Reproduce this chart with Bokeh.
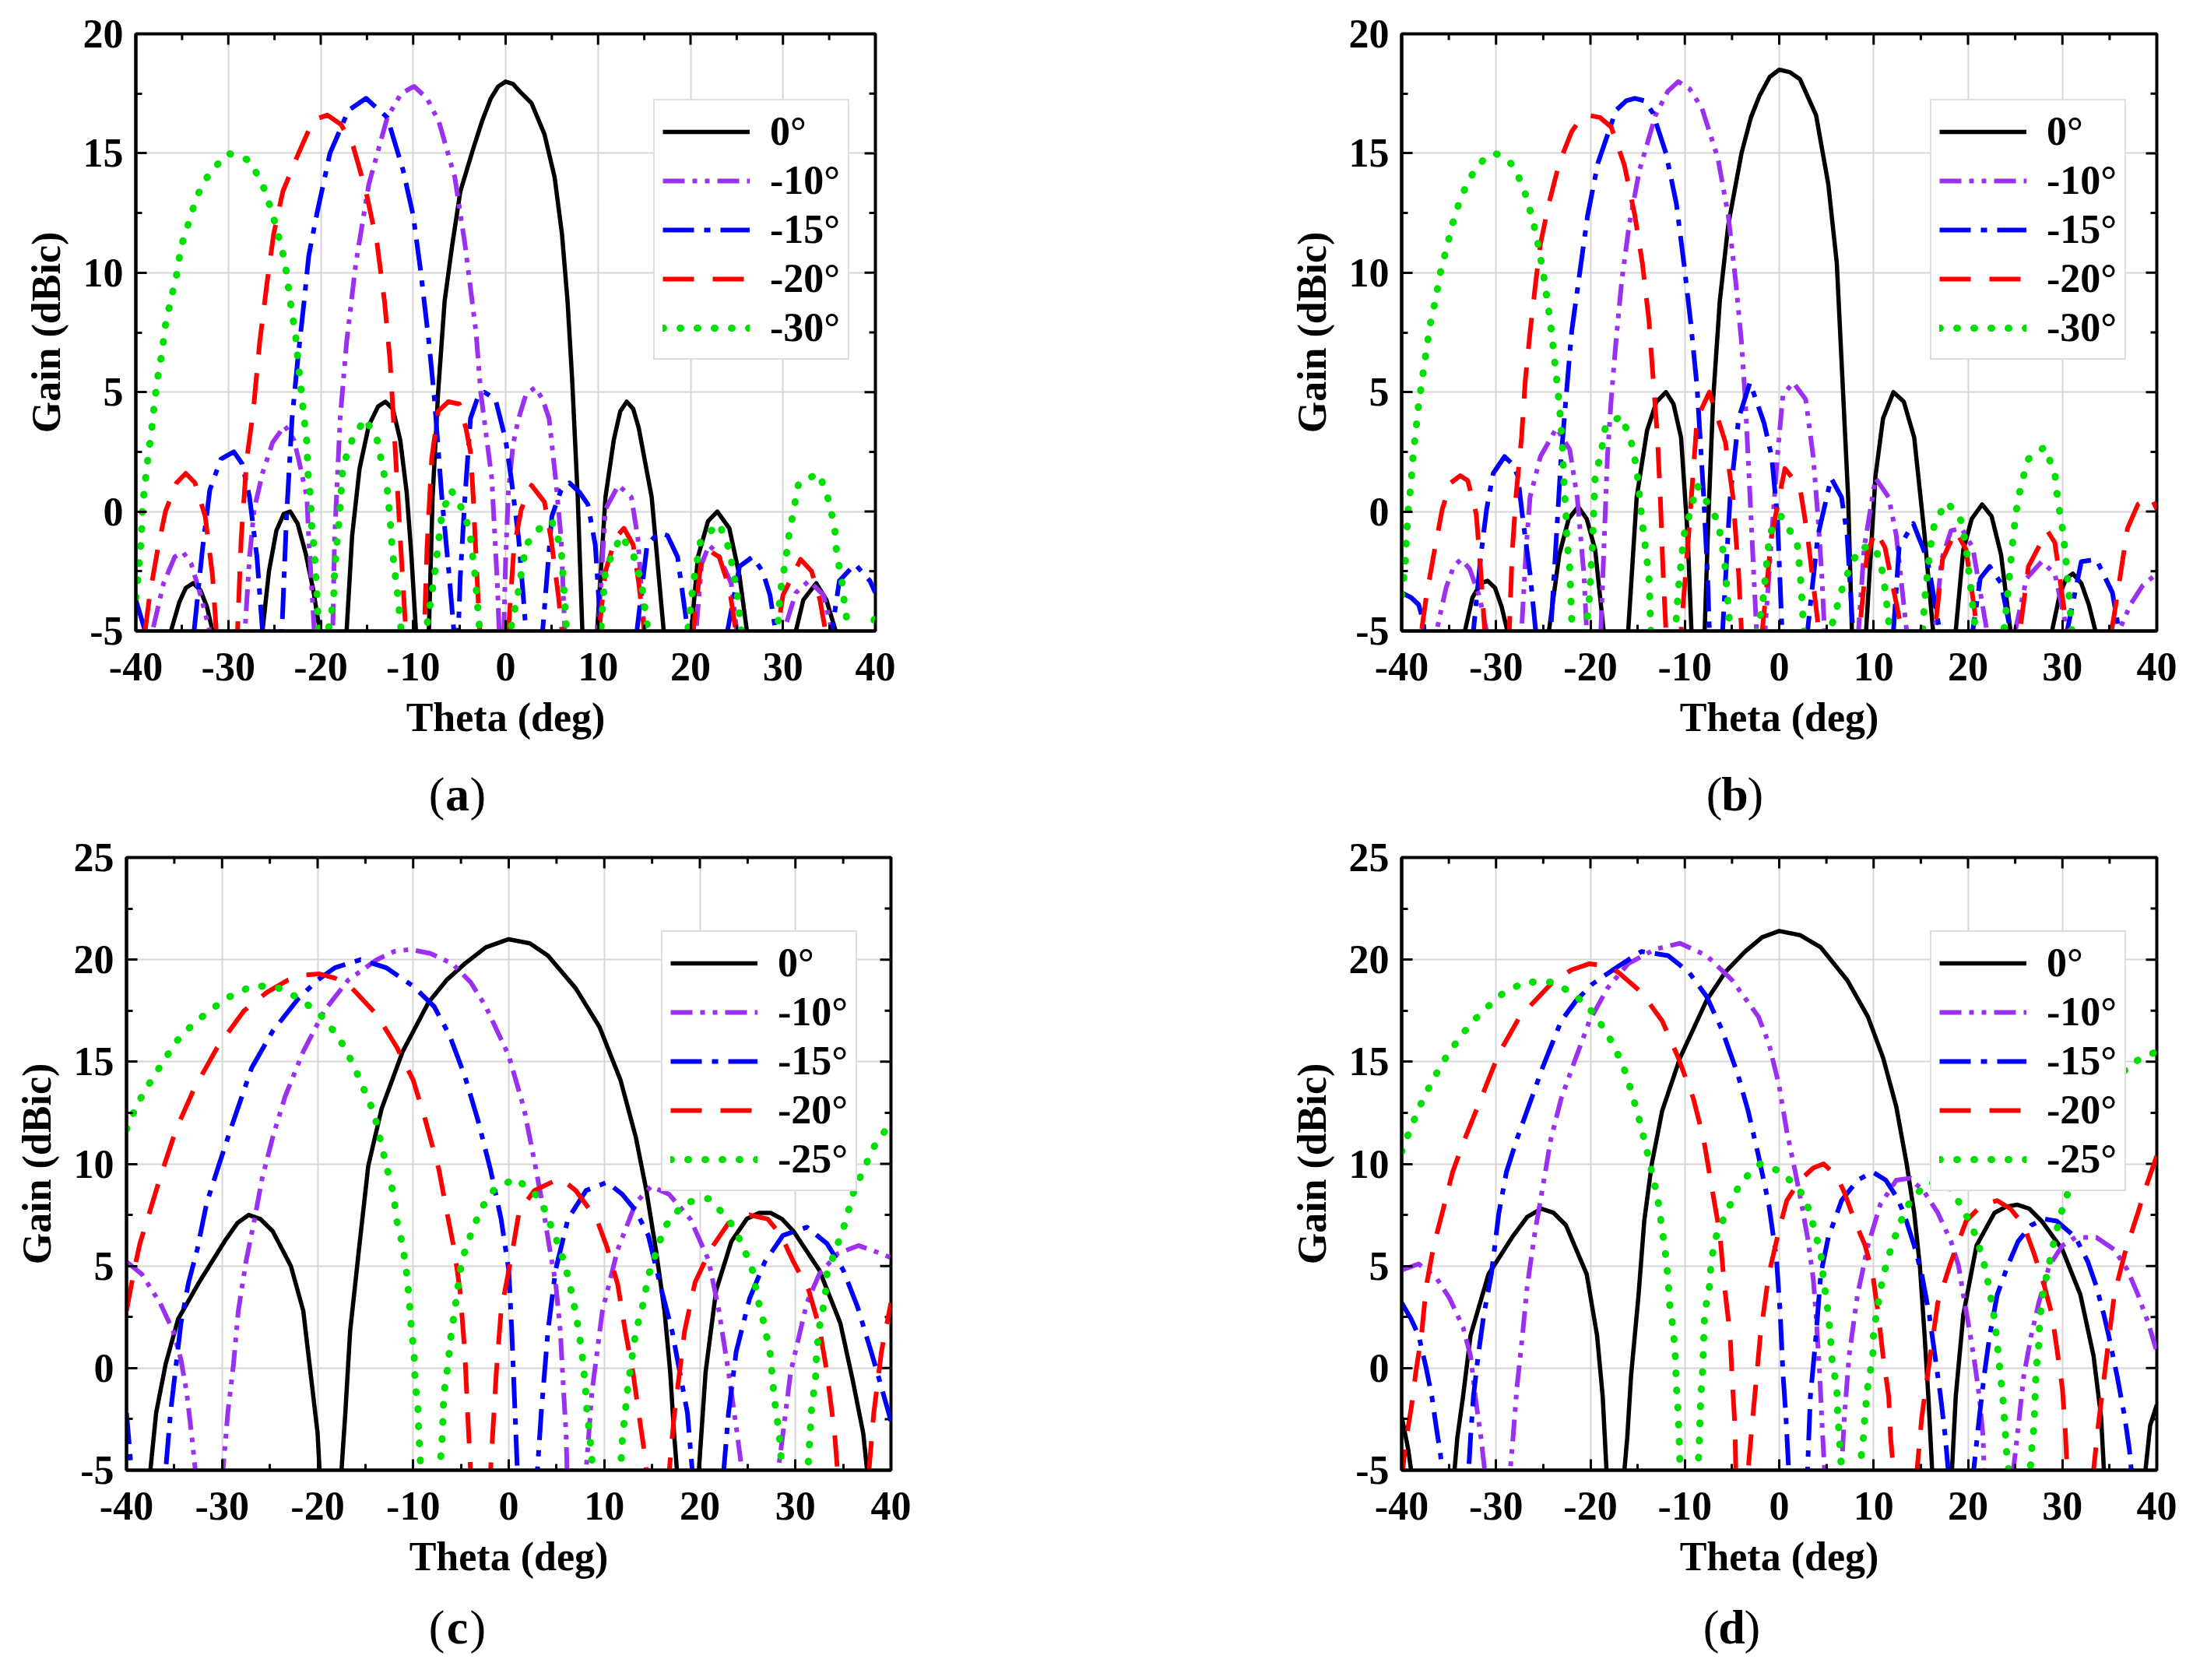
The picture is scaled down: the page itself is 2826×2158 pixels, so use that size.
from bokeh.plotting import figure
from bokeh.models import (Legend, LegendItem, Range1d, FixedTicker)
from bokeh.core.properties import value
from bokeh.layouts import row, column
from bokeh.embed import file_html
from bokeh.resources import INLINE

FONT = "Liberation Serif"

# ---------------- tick values / labels ----------------
x_ticks = [-40, -30, -20, -10, 0, 10, 20, 30, 40]
x_minor = [-35, -25, -15, -5, 5, 15, 25, 35]
y_ticks_ab = [-5, 0, 5, 10, 15, 20]
y_minor_ab = [-2.5, 2.5, 7.5, 12.5, 17.5]
y_ticks_cd = [-5, 0, 5, 10, 15, 20, 25]
y_minor_cd = [-2.5, 2.5, 7.5, 12.5, 17.5, 22.5]

labels_ab = ["0°", "-10°", "-15°", "-20°", "-30°"]
labels_cd = ["0°", "-10°", "-15°", "-20°", "-25°"]
captions = ["a", "b", "c", "d"]

# ---------------- panel (a) ----------------
a0_theta = [-40, -36.2, -35.3, -34.6, -33.8, -33.0, -32.3, -31.7, -29, -26.3, -25.6, -24.8, -24, -23.3, -22.5, -21.6, -20.8, -20.1, -18.6, -17.2, -16.6, -15.8, -14.8, -13.8, -13.0, -12.2, -11.4, -10.7, -10.2, -9.7, -9.0, -8.3, -7.9, -7.3, -6.6, -5.8, -4.9, -3.5, -2.5, -1.6, -0.8, 0, 0.8, 1.5, 2.8, 4.2, 5.3, 6.1, 6.7, 7.2, 7.8, 8.3, 9.1, 9.9, 10.8, 11.7, 12.4, 13.1, 13.8, 14.4, 15.8, 17.1, 18.6, 20.1, 20.8, 21.9, 22.9, 24.2, 25.3, 26.1, 28.7, 31.4, 32.2, 33.6, 34.7, 35.7, 38, 40]
a0_gain = [-9, -5, -3.8, -3.2, -3.0, -3.3, -4.0, -5, -9, -5, -2.5, -0.8, -0.1, 0.0, -0.5, -1.8, -3.3, -5, -9, -5, -1, 1.8, 3.6, 4.4, 4.6, 4.3, 3.0, 0.8, -1.8, -5, -9, -5, 0.6, 5.0, 8.8, 11.1, 13.4, 15.2, 16.4, 17.3, 17.8, 18.0, 17.9, 17.6, 17.1, 15.8, 14.0, 11.6, 8.8, 5.5, 0.6, -5, -9, -5, 0.6, 3.0, 4.2, 4.6, 4.3, 3.5, 0.6, -5, -9, -5, -1.9, -0.4, 0.0, -0.7, -2.7, -5, -9, -5, -3.7, -3.0, -3.7, -5, -9, -7]

a10_theta = [-40, -38.2, -37, -35.8, -34.9, -34, -33, -32, -30, -28.2, -27.7, -27.2, -26.3, -25.2, -23.9, -22.9, -22.4, -21.5, -21.3, -20.7, -19.7, -18.7, -18.5, -17.9, -17.2, -16.2, -14.8, -12.8, -11.3, -9.9, -8.5, -7.2, -5.5, -4.4, -3.2, -2.7, -1.5, -0.9, -0.4, 0.0, 0.3, 0.8, 1.4, 2.2, 3.2, 4.0, 4.7, 5.4, 6.0, 6.4, 8.2, 10, 10.8, 12.2, 13.6, 14.3, 15, 17.8, 20.6, 21.2, 22, 23, 24.4, 25, 27.5, 30.1, 31.4, 32.8, 34.4, 35.3, 37.5, 40]
a10_gain = [-7, -5, -3, -1.9, -1.7, -2.2, -3.5, -5, -9, -5, -1.9, 0.1, 1.6, 2.9, 3.6, 3.0, 2.2, 0.6, -1.1, -5, -9, -5, -1.1, 3.9, 7.1, 10.4, 13.7, 16.5, 17.5, 17.8, 17.3, 16.3, 14.0, 11.2, 7.5, 5.0, 1.4, -3, -8, -2, 0.8, 2.8, 3.9, 4.9, 5.2, 4.7, 3.9, 1.4, -1.1, -5, -9, -5, 0.1, 1.1, 0.6, -1.1, -5, -9, -5, -2.2, -1.4, -1.8, -3.0, -5, -9, -5, -3.4, -2.9, -3.5, -5, -9, -6]

a15_theta = [-40, -39, -36.5, -33.7, -32.8, -32, -30.8, -29.4, -28.5, -27.7, -26.9, -26.3, -25.2, -24.2, -23.7, -23.1, -22.5, -21.8, -21.3, -20.4, -19.0, -17.0, -15.1, -12.8, -11.1, -10.0, -9.2, -8.3, -7.7, -6.9, -6.1, -5.6, -5.3, -4.9, -4.4, -3.8, -3.0, -2.3, -1.1, 0, 0.6, 1.4, 1.9, 2.2, 3.1, 4.0, 5, 6.0, 6.9, 8.0, 8.9, 9.7, 10.3, 12.2, 14.2, 15.3, 16.5, 17.5, 18.6, 19.7, 21.8, 24, 25.3, 26.7, 27.8, 28.6, 29.2, 32.2, 35.3, 36.1, 37.8, 39.4, 40]
a15_gain = [-3.7, -5, -9, -5, -1.6, 0.9, 2.2, 2.5, 2.0, 0.6, -1.9, -5, -9, -5, -0.2, 3.9, 6.3, 8.8, 10.7, 12.5, 15.0, 16.8, 17.3, 16.5, 14.3, 12.4, 10.1, 7.1, 4.7, 0.6, -2.7, -5, -7, -2.7, 0.6, 3.9, 4.8, 5.0, 4.7, 3.0, 1.4, -1.1, -3.5, -5, -9, -5, -0.2, 0.9, 1.2, 0.8, 0.3, -1.4, -5, -9, -5, -1.4, -0.9, -1.0, -1.9, -5, -9, -5, -2.3, -1.9, -2.5, -3.5, -5, -9, -5, -2.9, -2.2, -2.9, -3.4]

a20_theta = [-40, -39, -38.5, -37.6, -36.8, -35.6, -34.6, -33.6, -32.5, -31.7, -31.3, -30.2, -29, -28.6, -28.0, -27.3, -26.6, -25.8, -25.1, -24.1, -22.4, -20.8, -19.3, -17.8, -16.5, -15.1, -13.9, -13.1, -12.5, -12.0, -11.4, -10.8, -9.7, -8.8, -8.5, -8.0, -7.3, -6.2, -5.0, -4.3, -3.8, -3.5, -3.2, -2.8, -1.3, 0.3, 0.9, 1.7, 2.8, 4.2, 4.9, 5.7, 6.1, 8.1, 10.1, 10.8, 11.9, 12.8, 13.8, 14.4, 15, 17.6, 20.3, 21.1, 21.9, 23.1, 24.2, 24.9, 27.2, 29.4, 30, 31.9, 33.1, 34, 34.6, 37, 40]
a20_gain = [-7, -5, -3.5, -1.5, 0.0, 1.2, 1.6, 1.2, -0.2, -2.7, -5, -9, -5, -1.1, 2.2, 4.2, 7.1, 9.6, 11.6, 13.4, 15.0, 16.4, 16.6, 16.2, 15.3, 13.4, 11.2, 8.8, 6.3, 3.0, -1.1, -5, -9, -5, -1.5, 2.2, 4.2, 4.6, 4.5, 3.5, 2.5, 0.6, -1.9, -5, -9, -5, -1.5, 0.1, 1.1, 0.4, -1.1, -3.5, -5, -9, -5, -2.5, -1.1, -0.7, -1.4, -3.0, -5, -9, -5, -2.2, -1.6, -1.9, -3.2, -5, -9, -5, -3.5, -2.0, -2.5, -3.7, -5, -9, -8]

a30_theta = [-40, -39.9, -39.7, -39.4, -39.3, -39, -38.7, -38.3, -38, -37.6, -37.2, -36.8, -36.2, -35.6, -35.1, -34.2, -33.4, -32, -30, -27.7, -26.3, -25.4, -24.6, -23.9, -23.5, -23.1, -22.7, -22.4, -22.1, -21.8, -21.5, -21.4, -21.1, -21, -20.7, -20.4, -20, -19.2, -18.6, -18.5, -18, -17.6, -16.6, -15.2, -13.9, -12.8, -12.5, -12.3, -12, -11.7, -11.3, -10, -8.6, -7.7, -6.9, -5.9, -4.4, -3.8, -3.3, -2.8, -1.2, 0.5, 1.3, 2.2, 3.9, 5.0, 6, 6.6, 8.5, 10.3, 10.8, 12.5, 13.8, 14.7, 15.4, 17.5, 19.7, 20.3, 21.1, 23.1, 24.2, 25.0, 25.5, 27.6, 29.4, 29.7, 30.3, 30.6, 31.7, 33.9, 35, 35.6, 35.8, 36.4, 36.7, 37.1, 38.5, 39.7, 40]
a30_gain = [-3.6, -3.4, -2.4, -1.1, 0.1, 1.2, 2.2, 3.4, 4.5, 5.7, 6.6, 7.8, 8.9, 9.9, 11.1, 12.2, 13.2, 14.2, 15.0, 14.7, 13.7, 12.7, 11.6, 10.5, 9.4, 8.3, 7.3, 6.1, 5.0, 3.9, 2.9, 1.7, 0.6, -0.5, -1.6, -3.5, -7, -5, -3.7, -2.4, -0.3, 1.9, 3.0, 3.9, 3.0, 0.9, -0.3, -1.4, -2.5, -3.4, -5, -9, -5, -2.7, -0.1, 0.9, -0.1, -1.1, -2.7, -5, -9, -5, -3.5, -1.4, -0.6, -0.4, -1.5, -5, -9, -5, -2.4, -1.0, -1.8, -3.0, -5, -9, -5, -3.0, -1.2, -0.5, -1.6, -3.3, -5, -9, -5, -3.4, -2.0, -1.1, 1.2, 1.6, 0.4, -0.7, -1.7, -3.0, -4.0, -5, -8, -4.7, -4.4]

# ---------------- panel (b) ----------------
b0_theta = [-40, -35.5, -33.3, -32.5, -31.6, -30.9, -30.1, -29.4, -28.8, -26.6, -24.4, -23.3, -22.3, -21.3, -20.4, -19.5, -18.6, -17.3, -16.0, -15.1, -14.0, -13.0, -12.0, -11.2, -10.4, -9.7, -9.3, -8.6, -7.9, -7.5, -7.0, -6.3, -5.4, -4.0, -3.0, -2.1, -1.0, 0, 1.1, 2.2, 3.9, 5.2, 6.1, 6.7, 7.3, 7.7, 8.4, 9.2, 10.2, 11.0, 12.1, 13.2, 14.3, 15.4, 16.3, 17.5, 18.7, 19.5, 20.4, 21.5, 22.5, 23.5, 24.5, 26.7, 28.9, 29.7, 30.4, 31.1, 32.0, 32.8, 33.5, 36, 40]
b0_gain = [-10, -9, -5, -3.6, -3.0, -2.9, -3.2, -4.0, -5, -9, -5, -1.8, -0.3, 0.2, -0.3, -1.6, -5, -9, -5, 0.6, 3.4, 4.6, 5.0, 4.5, 3.1, -1.0, -5, -9, -5, -0.2, 4.7, 8.8, 12.0, 15.0, 16.5, 17.4, 18.2, 18.5, 18.4, 18.1, 16.6, 13.7, 10.4, 5.5, 0.6, -5, -9, -5, 1.5, 3.9, 5.0, 4.6, 3.1, -1.0, -5, -9, -5, -1.6, -0.3, 0.3, -0.2, -1.8, -5, -9, -5, -3.5, -2.8, -2.6, -3.0, -3.9, -5, -9, -10]

b10_theta = [-40, -36.3, -35.3, -34.5, -33.7, -32.8, -31.8, -31.0, -29.2, -27.3, -26.8, -26.4, -25.3, -23.6, -22.2, -21.4, -20.7, -20.4, -19.6, -18.9, -18.6, -18.2, -17.8, -17.3, -16.7, -15.9, -14.8, -13.1, -11.8, -10.7, -9.5, -8.2, -6.5, -5.4, -4.6, -4.0, -3.6, -3.2, -2.7, -2.4, -2.0, -1.5, -0.8, -0.2, 0.4, 1.5, 2.8, 3.6, 4.1, 4.5, 4.8, 6.6, 8.4, 9.0, 10.2, 11.6, 12.4, 13.5, 15, 16.5, 17.2, 18.2, 19.3, 20.5, 22, 23.5, 25, 26.2, 27.8, 29.2, 30.5, 33.2, 36, 37.2, 38.5, 40]
b10_gain = [-8, -5, -3.2, -2.3, -2.0, -2.4, -3.5, -5, -9, -5, -1.5, 0.6, 2.3, 3.5, 2.6, 0.6, -2.6, -5, -9, -5, -1.8, 2.3, 4.7, 7.1, 9.6, 12.0, 14.3, 16.6, 17.6, 18.0, 17.7, 16.9, 14.8, 12.4, 9.6, 7.1, 4.7, 1.5, -2.6, -5, -8, -5, -1.0, 2.3, 4.9, 5.4, 4.7, 2.3, -0.2, -2.6, -5, -9, -5, -1.5, 1.4, 0.6, -1.0, -5, -9, -5, -2, -0.8, -0.7, -1.5, -5, -9, -5, -2.8, -2.1, -2.6, -5, -9, -5, -3.9, -3.1, -2.6]

b15_theta = [-40, -39, -38.2, -37.7, -37.2, -35, -32.4, -31.6, -31, -30.3, -29.1, -28.3, -27.7, -27.2, -26.4, -25.8, -25, -24.2, -23.6, -23.1, -22.6, -22.0, -21.1, -20.3, -19.2, -17.3, -16.2, -15.3, -14.3, -13.4, -12.0, -10.9, -10.1, -9.4, -8.7, -8.0, -7.6, -7.4, -6.7, -6.0, -5.2, -4.3, -3.1, -1.6, -0.8, -0.2, 0.3, 1.6, 3.0, 4.1, 5.5, 6.6, 7.2, 7.8, 10, 12.1, 12.7, 14.2, 15.7, 17, 18.8, 20.5, 21.3, 22.3, 23.5, 24.5, 27.5, 30.5, 32, 33.6, 35.3, 36, 38, 40]
b15_gain = [-3.4, -3.6, -3.9, -4.6, -7, -9, -5, -1.8, 0.1, 1.6, 2.3, 2.0, 1.5, -0.2, -2.6, -5, -9, -5, -1.0, 2.3, 4.7, 7.5, 10.1, 12.4, 14.6, 16.8, 17.2, 17.3, 17.2, 16.7, 15.0, 12.9, 10.4, 8.0, 5.2, 0.6, -2.6, -5, -9, -5, 0.6, 3.9, 5.4, 3.7, 2.3, -0.2, -5, -9, -5, -1.0, 1.4, 0.6, -1.0, -5, -9, -5, -1.5, -0.5, -2.0, -5, -9, -5, -2.8, -2.3, -3.0, -5, -9, -5, -2.1, -2.0, -3.4, -5, -8, -6]

b20_theta = [-40, -37.9, -37.4, -36.6, -35.7, -34.8, -33.8, -33, -32.1, -31.6, -31.2, -29.9, -28.6, -28.3, -27.9, -27.3, -26.9, -26.4, -25.8, -25.3, -24.4, -23.3, -22, -21.1, -20.3, -19.0, -17.8, -16.4, -15.3, -14.5, -13.8, -13.4, -12.9, -12.6, -12.3, -12.0, -11.2, -10.4, -9.6, -8.7, -7.4, -5.7, -4.9, -4.3, -4.0, -2.9, -1.8, -0.8, 0.6, 2.2, 3.0, 4.2, 6.3, 8.5, 9.3, 10.2, 11.2, 13, 14.7, 16.5, 17.3, 18.7, 19.8, 21, 23.2, 25.5, 26.4, 28.4, 29.2, 30.5, 33, 35.2, 35.5, 36.9, 38, 39.4, 40]
b20_gain = [-9, -5, -3.6, -1.8, 0.1, 1.2, 1.5, 1.3, -0.1, -2.6, -5, -9, -5, -1.8, 0.6, 3.1, 5.5, 7.5, 9.6, 11.2, 12.9, 14.6, 15.9, 16.4, 16.6, 16.5, 16.1, 14.5, 12.4, 10.4, 8.0, 5.8, 3.1, 0.6, -2.6, -5, -9, -5, -1.0, 3.9, 5.0, 2.9, 0.6, -2.6, -5, -9, -5, -1.0, 1.8, 1.0, -1.0, -5, -9, -5, -1.8, -0.8, -1.5, -5, -9, -5, -2, -0.8, -1.6, -5, -9, -5, -2.3, -0.8, -1.3, -5, -9, -5, -4.3, -0.7, 0.3, 0.6, 0.1]

b30_theta = [-40, -39.9, -39.6, -39.5, -39.3, -39, -38.8, -38.5, -38.2, -37.8, -37.4, -37, -36.4, -35.9, -35.2, -34.5, -33.7, -32.4, -31.2, -30.1, -29.0, -28, -26.9, -26.1, -25.5, -25, -24.6, -24.2, -23.9, -23.6, -23.3, -23.0, -22.8, -22.6, -22.5, -22.2, -22.1, -22, -21.5, -20.6, -20.2, -19.8, -19.5, -18.9, -18.4, -16.7, -15.6, -15.1, -14.5, -13.8, -13.6, -12.3, -11.0, -10.7, -10.1, -8.7, -6.5, -5.8, -5.5, -5.2, -3.8, -2.4, -1.8, -1.0, 0.2, 1.9, 2.3, 2.6, 4, 5.4, 6.9, 8.5, 10.2, 11, 11.4, 11.7, 13.5, 15.2, 15.4, 16.0, 16.5, 17.8, 19.3, 19.8, 20.4, 20.8, 22.5, 23.8, 24, 24.8, 25.1, 25.6, 26.4, 28.1, 29.2, 29.5, 30, 30.3, 30.6, 31, 34, 40]
b30_gain = [-3.5, -3.3, -2.1, -1.1, 0.1, 1.2, 2.3, 3.4, 4.5, 5.6, 6.7, 7.8, 8.9, 10.0, 11.1, 12.2, 13.2, 14.2, 14.8, 15.0, 14.8, 14.4, 13.3, 12.2, 11.1, 10.0, 8.9, 7.8, 6.7, 5.6, 4.5, 3.0, 1.1, 0.0, -1.2, -2.3, -3.3, -4.4, -8, -5, -4.1, -1.5, 1.5, 2.4, 3.6, 4.0, 2.8, 1.8, -0.5, -2.7, -5, -9, -5, -3.3, -1.0, 1.1, -0.4, -2.0, -3.5, -5, -9, -5, -4.0, -0.9, -0.2, -1.3, -3.0, -5, -8, -5, -2.9, -1.5, -1.5, -2.6, -3.9, -5, -9, -5, -3.7, -1.5, -0.4, 0.4, -0.4, -1.5, -3.6, -5, -9, -5, -4.3, -1, 0, 1.1, 2.2, 2.7, 1.6, 0.5, -0.7, -1.7, -3.0, -5, -9, -9]

# ---------------- panel (c) ----------------
c0_theta = [-40, -37.5, -36.9, -35.9, -34.6, -32.4, -29.6, -28.4, -27.2, -26.0, -24.7, -22.8, -21.5, -20.7, -20, -19.8, -18.6, -17.5, -17.1, -16.6, -15.7, -14.7, -13.3, -11.1, -8.4, -6.5, -4.6, -2.4, 0, 2.2, 4.1, 7.0, 9.5, 11.7, 13.3, 14.4, 15.4, 16.3, 16.9, 17.3, 17.6, 18.7, 19.9, 20.6, 21.7, 23.3, 24.9, 26.2, 27.4, 28.6, 29.8, 32.5, 34.7, 36.0, 37.1, 37.5, 38.8, 40]
c0_gain = [-9, -5, -2.2, 0.2, 2.4, 4.2, 6.3, 7.1, 7.5, 7.3, 6.7, 5.0, 2.8, -0.4, -3.2, -5, -9, -5, -2.2, 1.8, 5.7, 9.9, 12.7, 15.5, 17.9, 19.0, 19.8, 20.6, 21.0, 20.8, 20.2, 18.6, 16.7, 14.1, 11.3, 8.7, 5.8, 2.8, -0.2, -3.2, -5, -9, -5, -0.2, 3.8, 6.2, 7.3, 7.6, 7.6, 7.3, 6.7, 4.8, 2.2, -0.6, -3.2, -5, -9, -7]

c10_theta = [-40, -38.4, -36.5, -35.1, -34.3, -33.7, -33.2, -32.8, -31.4, -29.9, -29.4, -28.8, -28.3, -27.5, -26.6, -25.8, -24.7, -23.4, -21.5, -19.3, -16.8, -13.8, -12.0, -10.3, -8.2, -5.9, -4.0, -2.4, 0.0, 1.6, 2.7, 3.5, 4.3, 4.9, 5.4, 5.7, 6.0, 6.1, 7.1, 8.1, 8.7, 9.8, 11.4, 13.3, 14.9, 16.8, 19.0, 20.9, 22.0, 23.0, 23.9, 24.4, 26.3, 28.2, 28.7, 29.5, 31.2, 32.5, 34.4, 36.6, 39, 40]
c10_gain = [5.2, 4.6, 3.2, 1.8, 0.4, -1.2, -3.2, -5, -9, -5, -2.2, 0.2, 2.8, 5.2, 7.3, 9.3, 11.3, 13.3, 15.5, 17.5, 19.0, 20.0, 20.4, 20.5, 20.3, 19.8, 18.9, 17.7, 15.3, 12.7, 10.1, 8.1, 5.8, 4.2, 1.8, -0.8, -3.2, -5, -9, -5, -1.2, 2.8, 5.8, 8.1, 8.9, 8.5, 7.3, 5.3, 2.8, -0.2, -3.2, -5, -9, -5, -3.2, -0.2, 3.2, 4.6, 5.6, 6.0, 5.6, 5.4]

c15_theta = [-40, -39.7, -39.5, -37.7, -35.9, -35.4, -34.8, -34.3, -33.5, -32.6, -31.6, -30.5, -29.1, -26.9, -24.7, -22.0, -20.0, -18.2, -15.5, -12.8, -10.0, -7.8, -6.2, -4.6, -3.2, -1.9, -0.8, 0.0, 0.3, 0.6, 0.9, 2, 3.0, 3.4, 4.1, 4.9, 6.2, 8.1, 10.3, 11.9, 13.3, 14.6, 16.0, 17.1, 17.9, 18.7, 19.2, 20.8, 22.5, 23.0, 23.8, 25.2, 26.8, 28.7, 31.2, 33.3, 35.0, 36.5, 37.8, 38.8, 40]
c15_gain = [-2.2, -3.8, -5, -9, -5, -2.2, 0.2, 2.2, 4.2, 5.8, 8.1, 9.7, 11.7, 14.7, 16.5, 18.1, 19.0, 19.6, 20.0, 19.6, 18.7, 17.7, 16.3, 14.3, 12.1, 9.7, 7.3, 4.8, 2.0, -1.5, -5, -9, -5, -2.2, 1.8, 4.8, 7.3, 8.7, 9.1, 8.5, 7.7, 6.5, 3.8, 1.8, -0.2, -2.2, -5, -9, -5, -2.2, 0.8, 3.4, 5.2, 6.5, 6.9, 6.1, 4.8, 3.0, 1.0, -0.6, -2.6]

c20_theta = [-40, -39.2, -38.6, -37.8, -36.5, -34.8, -32.9, -30.5, -27.7, -25.3, -23.1, -21.4, -19.8, -18.2, -16.6, -13.8, -11.7, -10.0, -8.7, -7.3, -6.5, -5.7, -5.1, -4.6, -4.3, -4.0, -3.0, -1.9, -1.3, -0.8, 0.3, 1.1, 2.7, 5.4, 7.0, 9.2, 10.3, 11.4, 12.2, 13.0, 13.6, 14.1, 14.4, 15.6, 16.8, 17.3, 18.4, 19.5, 21.1, 23.0, 25.2, 27.1, 28.5, 29.8, 31.4, 32.5, 33.3, 34.1, 34.4, 36, 37.7, 38.2, 39, 40]
c20_gain = [2.8, 4.8, 6.1, 7.3, 9.3, 11.7, 13.7, 15.7, 17.5, 18.4, 19.0, 19.25, 19.3, 19.1, 18.7, 17.3, 15.7, 14.1, 12.1, 9.7, 7.7, 5.8, 3.8, 0.8, -2.2, -5, -9, -5, -0.2, 2.8, 5.5, 7.7, 8.7, 9.3, 8.7, 7.3, 5.9, 4.1, 1.8, -0.2, -2.2, -3.8, -5, -9, -5, -2.4, 1.8, 4.2, 5.8, 7.1, 7.5, 7.3, 6.5, 5.2, 3.8, 2.0, -0.2, -3.2, -5, -9, -5, -2.2, 0.8, 3.2]

c25_theta = [-40, -38.9, -37.4, -35.9, -34.3, -32.1, -29.6, -26.9, -24.5, -21.9, -19.7, -17.8, -16.3, -15.2, -14.1, -13.4, -12.8, -12.1, -11.7, -11.1, -10.7, -10.4, -10.2, -9.9, -9.8, -9.5, -9.4, -9.2, -8.1, -7.0, -6.8, -6.4, -6.1, -5.7, -4.9, -4.0, -2.9, -1.6, 0.7, 3.3, 4.3, 5.4, 6.2, 6.8, 7.3, 7.7, 8.0, 8.2, 8.5, 8.8, 10.2, 11.7, 11.9, 12.5, 13.3, 14.1, 14.6, 16.3, 18.4, 20.9, 23.0, 24.4, 25.5, 26.0, 26.7, 27.4, 27.6, 27.9, 28.3, 28.6, 29.9, 31.3, 31.7, 32.1, 32.2, 32.5, 33.1, 33.3, 35.2, 36.0, 37.1, 38.3, 39.8, 40]
c25_gain = [11.7, 12.9, 14.1, 15.2, 16.3, 17.2, 18.1, 18.7, 18.7, 18.1, 17.3, 16.2, 14.9, 13.7, 12.5, 11.1, 9.9, 8.6, 7.2, 6.0, 4.7, 3.3, 2.0, 0.7, -0.7, -2.0, -3.3, -5, -9, -3.8, -1.3, 0.0, 1.4, 2.7, 5.3, 6.5, 7.8, 8.7, 9.3, 8.3, 7.1, 5.8, 4.5, 3.2, 1.9, 0.6, -0.8, -2.2, -3.4, -5, -9, -5, -3.4, -0.8, 1.8, 3.2, 4.5, 6.9, 8.1, 8.3, 7.3, 6.1, 4.8, 3.5, 2.2, 0.6, -0.6, -1.9, -3.2, -5, -9, -5, -1.9, -0.6, 0.6, 2.0, 3.4, 4.6, 7.1, 8.5, 9.7, 10.9, 11.9, 12.0]

# ---------------- panel (d) ----------------
d0_theta = [-40, -39.9, -39.3, -39.0, -36.7, -34.4, -34.1, -33.5, -32.7, -30.8, -28.3, -26.7, -25.2, -23.9, -22.6, -20.4, -19.3, -18.7, -18.3, -17.3, -16.4, -16.1, -15.7, -14.9, -14.3, -13.5, -12.4, -10.5, -7.7, -5.7, -3.6, -1.8, 0, 2.2, 4.4, 7.2, 9.4, 11.0, 12.4, 13.5, 14.3, 14.9, 15.4, 15.8, 16.2, 17.2, 18.3, 18.7, 19.5, 20.9, 22.8, 24.0, 25.2, 26.5, 27.8, 30.0, 31.9, 33.3, 34.1, 34.4, 36.6, 38.8, 39.3, 40]
d0_gain = [-2.4, -2.6, -4, -5, -9, -5, -3.4, -1.4, 1.6, 4.6, 6.4, 7.4, 7.8, 7.6, 7.0, 4.6, 1.6, -1.4, -5, -9, -5, -3.4, -0.4, 3.6, 7.2, 10.0, 12.6, 15.2, 18.0, 19.4, 20.4, 21.1, 21.4, 21.2, 20.6, 19.0, 17.2, 15.2, 12.8, 10.0, 7.6, 5.0, 1.6, -1.4, -5, -9, -5, -1.4, 2.6, 6.0, 7.6, 7.9, 8.0, 7.8, 7.2, 5.8, 3.6, 0.6, -2.4, -5, -9, -5, -2.8, -1.8]

d10_theta = [-40, -38.2, -36.3, -34.9, -33.5, -32.7, -32.2, -31.6, -31.2, -29.9, -28.5, -28.2, -27.8, -27.2, -26.7, -25.9, -25.0, -24.2, -23.1, -21.7, -20.1, -18.2, -16.0, -13.2, -10.5, -7.7, -5.0, -2.2, -1.1, 0, 0.8, 1.7, 2.3, 3.0, 3.6, 3.9, 4.3, 4.5, 4.8, 5.7, 6.6, 6.9, 7.4, 8.3, 9.4, 10.7, 12.4, 13.9, 15.4, 16.8, 18.2, 19.0, 19.5, 20.1, 20.6, 21.2, 21.6, 21.7, 23.2, 24.8, 25.2, 25.9, 26.7, 27.5, 28.6, 30.0, 31.4, 33.6, 35.5, 36.9, 38.0, 39.1, 40]
d10_gain = [4.8, 5.1, 4.4, 3.4, 2.0, 0.6, -1.4, -3.4, -5, -9, -5, -3.4, -1.0, 1.6, 4.0, 6.6, 9.0, 11.2, 13.2, 15.0, 17.0, 18.6, 19.8, 20.5, 20.8, 20.2, 19.0, 17.2, 15.9, 13.8, 11.6, 9.6, 8.2, 6.4, 4.4, 2.6, -0.4, -2.4, -5, -9, -5, -2.4, 0.6, 3.6, 6.0, 8.0, 9.2, 9.3, 8.6, 7.6, 6.2, 5.0, 3.6, 2.0, 0.6, -1.4, -3.4, -5, -9, -5, -3.4, -0.4, 1.6, 3.2, 5.0, 6.0, 6.4, 6.4, 5.8, 4.8, 3.6, 2.2, 0.8]

d15_theta = [-40, -39, -38.2, -37.4, -36.8, -36.3, -35.9, -35.7, -34.3, -32.9, -32.7, -32.4, -31.9, -31.3, -30.5, -29.7, -28.9, -27.8, -26.4, -25.0, -23.1, -21.5, -19.8, -17.3, -14.6, -11.8, -9.6, -7.7, -6.1, -4.4, -3.3, -2.2, -1.1, -0.3, 0.1, 0.4, 0.7, 1.0, 2, 3.0, 3.3, 3.9, 4.4, 5.2, 6.6, 8.3, 9.9, 11.3, 12.4, 13.2, 14.3, 15.1, 15.9, 16.5, 17.1, 17.6, 17.9, 19.2, 20.6, 21.2, 21.7, 22.3, 23.1, 24.2, 25.3, 26.7, 28.1, 29.4, 31.4, 32.7, 33.6, 34.4, 34.9, 35.8, 36.6, 37.1, 37.3, 38.5, 40]
d15_gain = [3.2, 2.4, 1.6, 0.0, -1.4, -3.0, -4.2, -5, -9, -5, -3.4, -1.4, 0.6, 2.6, 4.6, 7.6, 9.6, 11.2, 13.0, 14.8, 17.0, 18.0, 18.8, 19.6, 20.4, 20.2, 19.4, 18.2, 16.6, 14.4, 12.6, 10.4, 8.0, 5.4, 2.7, -0.3, -2.3, -5, -9, -5, -1.4, 1.6, 4.6, 6.4, 8.2, 9.2, 9.6, 9.2, 8.4, 7.6, 6.0, 4.6, 2.6, 0.6, -1.4, -3.4, -5, -9, -5, -2.4, -0.4, 1.6, 3.6, 5.0, 6.2, 7.0, 7.3, 7.2, 6.4, 5.2, 4.0, 2.6, 1.6, -0.4, -2.4, -4.0, -5, -9, -6]

d20_theta = [-40, -39.7, -39.5, -39, -38.5, -37.9, -37.4, -36.6, -35.7, -34.6, -33.5, -31.6, -29.7, -27.5, -24.2, -22.0, -20.1, -18.5, -17.1, -14.6, -12.4, -10.7, -9.1, -8.0, -7.2, -6.3, -5.8, -5.2, -5.0, -4.7, -4.6, -4.0, -3.3, -2.8, -2.0, -1.1, 0, 0.8, 2.2, 3.6, 4.7, 6.1, 6.9, 8.0, 9.1, 9.9, 10.5, 11.0, 11.6, 11.8, 12.1, 13.3, 14.6, 15.1, 16.0, 16.8, 18.2, 19.8, 21.5, 23.1, 24.5, 25.9, 27.0, 28.1, 28.9, 29.4, 30.0, 30.3, 30.5, 31.9, 33.3, 33.8, 34.7, 35.5, 36.6, 38.0, 38.8, 40]
d20_gain = [-5.5, -4.2, -3.4, -2.0, -0.2, 1.6, 4.0, 6.0, 7.6, 9.6, 11.0, 13.2, 15.4, 17.2, 18.8, 19.5, 19.8, 19.7, 19.4, 18.4, 17.0, 15.2, 13.2, 11.2, 9.0, 6.6, 4.0, 1.6, -0.4, -2.8, -5, -9, -5, -2.4, 1.6, 4.6, 6.8, 8.2, 9.2, 9.8, 10.0, 9.4, 8.6, 7.2, 6.0, 4.6, 2.6, 0.6, -1.4, -3.4, -5, -9, -5, -2.4, 0.6, 3.2, 5.2, 7.2, 8.0, 8.2, 7.8, 7.0, 5.6, 4.0, 2.6, 1.0, -1.0, -3.0, -5, -9, -5, -2.8, 0.6, 3.6, 5.6, 7.6, 8.8, 10.4]

d25_theta = [-40, -39, -37.9, -36.6, -35.2, -33.5, -31.6, -29.4, -27, -24, -21.7, -19.5, -17.9, -16.6, -15.7, -14.9, -14.2, -13.5, -12.9, -12.5, -12.1, -11.8, -11.6, -11.2, -11, -10.9, -10.7, -10.6, -10.5, -9.5, -8.6, -8.5, -8.4, -8.3, -8.1, -8.0, -7.9, -7.4, -7.2, -6.6, -5.3, -4.1, -2.0, 0.3, 2.7, 3.6, 4.4, 4.7, 5.1, 5.4, 5.6, 6.1, 6.2, 6.4, 6.6, 7.5, 8.5, 8.9, 9.1, 9.4, 9.9, 10.0, 10.5, 11, 11.8, 12.7, 14, 15.9, 18.2, 19.8, 20.9, 21.7, 22.3, 22.8, 23.1, 23.4, 23.7, 23.9, 24.1, 24.3, 25.4, 26.6, 26.7, 27.0, 27.1, 27.2, 27.5, 27.6, 28.0, 28.6, 29.2, 30, 31.5, 33, 35, 36.9, 38.5, 40]
d25_gain = [10.6, 11.8, 13.0, 14.2, 15.3, 16.4, 17.4, 18.3, 18.9, 18.9, 18.3, 17.3, 16.1, 14.9, 13.6, 12.3, 11.0, 9.6, 8.4, 7.1, 5.8, 4.5, 3.1, 1.8, 0.5, -0.9, -2.2, -3.5, -5, -9, -5, -3.9, -2.6, -1.3, 0, 1.4, 2.7, 4.0, 5.3, 6.6, 7.9, 9.1, 10.0, 9.6, 8.4, 7.0, 5.6, 4.3, 3.0, 1.7, 0.4, -1.0, -2.3, -3.6, -5, -9, -5, -3.5, -2.2, -0.8, 0.5, 1.8, 3.2, 4.5, 5.8, 7.0, 8.3, 9.1, 8.8, 7.5, 6.4, 5.1, 3.8, 2.4, 1.2, -0.2, -1.5, -2.8, -4.2, -5, -9, -5, -4.2, -2.8, -1.5, -0.2, 1.2, 2.4, 3.8, 5.1, 6.4, 7.8, 9.8, 11.6, 13.3, 14.8, 15.2, 15.5]

# ---------------- styles ----------------
colors = ["#000000", "#9B30F0", "#0000FF", "#FF0000", "#00E000"]
dashes = ["solid", "28 10 6 10 6 10", "40 13 8 13", "40 24", "1 21"]
widths = [5.5, 6, 6, 6, 9]
caps = ["butt", "butt", "butt", "butt", "round"]

TICK_MAJOR = 14
TICK_MINOR = 8


def make_panel(curves, labels, ymax, yticks, yminor, W, H, bl, br, bt, bb):
    ymin = -5
    p = figure(width=W, height=H, x_range=Range1d(-40, 40), y_range=Range1d(ymin, ymax),
               output_backend="svg", toolbar_location=None,
               min_border_left=bl, min_border_right=br, min_border_top=bt, min_border_bottom=bb,
               background_fill_color="white", border_fill_color="white")
    fw = W - bl - br
    fh = H - bt - bb
    xt = FixedTicker(ticks=x_ticks, minor_ticks=x_minor)
    yt = FixedTicker(ticks=yticks, minor_ticks=yminor)
    p.xaxis.ticker = xt
    p.yaxis.ticker = yt
    p.xgrid.ticker = xt
    p.ygrid.ticker = yt
    p.grid.grid_line_color = "#d6d6d6"
    p.grid.grid_line_width = 2
    p.outline_line_color = "black"
    p.outline_line_width = 4
    p.outline_line_alpha = 1

    for ax in p.axis:
        ax.axis_line_width = 4
        ax.axis_line_color = "black"
        ax.major_tick_in = TICK_MAJOR
        ax.major_tick_out = 0
        ax.minor_tick_in = TICK_MINOR
        ax.minor_tick_out = 0
        ax.major_tick_line_width = 3
        ax.minor_tick_line_width = 3
        ax.major_label_text_font = FONT
        ax.major_label_text_font_style = "bold"
        ax.major_label_text_font_size = "52px"
        ax.major_label_text_color = "black"
        ax.axis_label_text_font = FONT
        ax.axis_label_text_font_style = "bold"
        ax.axis_label_text_font_size = "52px"
        ax.axis_label_text_color = "black"
        ax.axis_label_standoff = 16
    p.xaxis[0].major_label_standoff = 28
    p.yaxis[0].major_label_standoff = 16
    p.xaxis[0].major_label_overrides = {t: str(t) for t in x_ticks}
    p.yaxis[0].major_label_overrides = {t: str(t) for t in yticks}
    p.xaxis[0].axis_label = "Theta (deg)"
    p.yaxis[0].axis_label = "Gain (dBic)"

    # mirrored inward ticks on the top and right frame edges
    yspan = ymax - ymin
    dyM = TICK_MAJOR * yspan / fh
    dym = TICK_MINOR * yspan / fh
    dxM = TICK_MAJOR * 80.0 / fw
    dxm = TICK_MINOR * 80.0 / fw
    p.segment(x0=x_ticks, y0=[ymax] * len(x_ticks), x1=x_ticks, y1=[ymax - dyM] * len(x_ticks),
              line_color="black", line_width=3)
    p.segment(x0=x_minor, y0=[ymax] * len(x_minor), x1=x_minor, y1=[ymax - dym] * len(x_minor),
              line_color="black", line_width=3)
    p.segment(x0=[40] * len(yticks), y0=yticks, x1=[40 - dxM] * len(yticks), y1=yticks,
              line_color="black", line_width=3)
    p.segment(x0=[40] * len(yminor), y0=yminor, x1=[40 - dxm] * len(yminor), y1=yminor,
              line_color="black", line_width=3)

    items = []
    for i, (th, g) in enumerate(curves):
        r = p.line(th, g, line_color=colors[i], line_width=widths[i],
                   line_dash=dashes[i], line_cap=caps[i], line_join="round")
        items.append(LegendItem(label=labels[i], renderers=[r]))

    leg_x = int(fw * (56.0 / 80.0))
    leg_y = int(fh * 0.455)
    legend = Legend(items=items, location=(leg_x, leg_y), orientation="vertical",
                    label_text_font=FONT, label_text_font_style="bold",
                    label_text_font_size="52px", label_text_color="black",
                    glyph_width=112, glyph_height=44, label_height=44,
                    label_standoff=26, spacing=4, padding=10, margin=0,
                    border_line_color="#bdbdbd", border_line_width=2,
                    background_fill_color="white", background_fill_alpha=1.0)
    p.add_layout(legend)
    return p


def make_caption(letter, W, H, cx, cy):
    c = figure(width=W, height=H, x_range=Range1d(0, W), y_range=Range1d(0, H),
               output_backend="svg", toolbar_location=None, min_border=0,
               background_fill_color="white", border_fill_color="white")
    c.axis.visible = False
    c.grid.visible = False
    c.outline_line_color = None
    half = 16
    c.text(x=[cx], y=[cy], text=[letter], text_align="center", text_baseline="middle",
           text_font=value(FONT), text_font_size=value("62px"), text_font_style="bold",
           text_color="black")
    c.text(x=[cx - half], y=[cy], text=["("], text_align="right", text_baseline="middle",
           text_font=value(FONT), text_font_size=value("62px"), text_font_style="normal",
           text_color="black")
    c.text(x=[cx + half], y=[cy], text=[")"], text_align="left", text_baseline="middle",
           text_font=value(FONT), text_font_size=value("62px"), text_font_style="normal",
           text_color="black")
    return c


curves_a = [(a0_theta, a0_gain), (a10_theta, a10_gain), (a15_theta, a15_gain),
            (a20_theta, a20_gain), (a30_theta, a30_gain)]
curves_b = [(b0_theta, b0_gain), (b10_theta, b10_gain), (b15_theta, b15_gain),
            (b20_theta, b20_gain), (b30_theta, b30_gain)]
curves_c = [(c0_theta, c0_gain), (c10_theta, c10_gain), (c15_theta, c15_gain),
            (c20_theta, c20_gain), (c25_theta, c25_gain)]
curves_d = [(d0_theta, d0_gain), (d10_theta, d10_gain), (d15_theta, d15_gain),
            (d20_theta, d20_gain), (d25_theta, d25_gain)]

WL, WR = 1450, 1360
pa = make_panel(curves_a, labels_ab, 20, y_ticks_ab, y_minor_ab, WL, 978, 174, 326, 43, 168)
pb = make_panel(curves_b, labels_ab, 20, y_ticks_ab, y_minor_ab, WR, 978, 350, 40, 43, 168)
ca = make_caption(captions[0], WL, 92, 587, 51)
cb = make_caption(captions[1], WR, 92, 778, 51)
pc = make_panel(curves_c, labels_cd, 25, y_ticks_cd, y_minor_cd, WL, 986, 162, 306, 31, 168)
pd_ = make_panel(curves_d, labels_cd, 25, y_ticks_cd, y_minor_cd, WR, 986, 350, 40, 31, 168)
cc = make_caption(captions[2], WL, 86, 587, 53)
cd = make_caption(captions[3], WR, 86, 774, 53)

layout = column(row(pa, pb), row(ca, cb), row(pc, pd_), row(cc, cd))
open("out.html", "w").write(file_html(layout, INLINE))
